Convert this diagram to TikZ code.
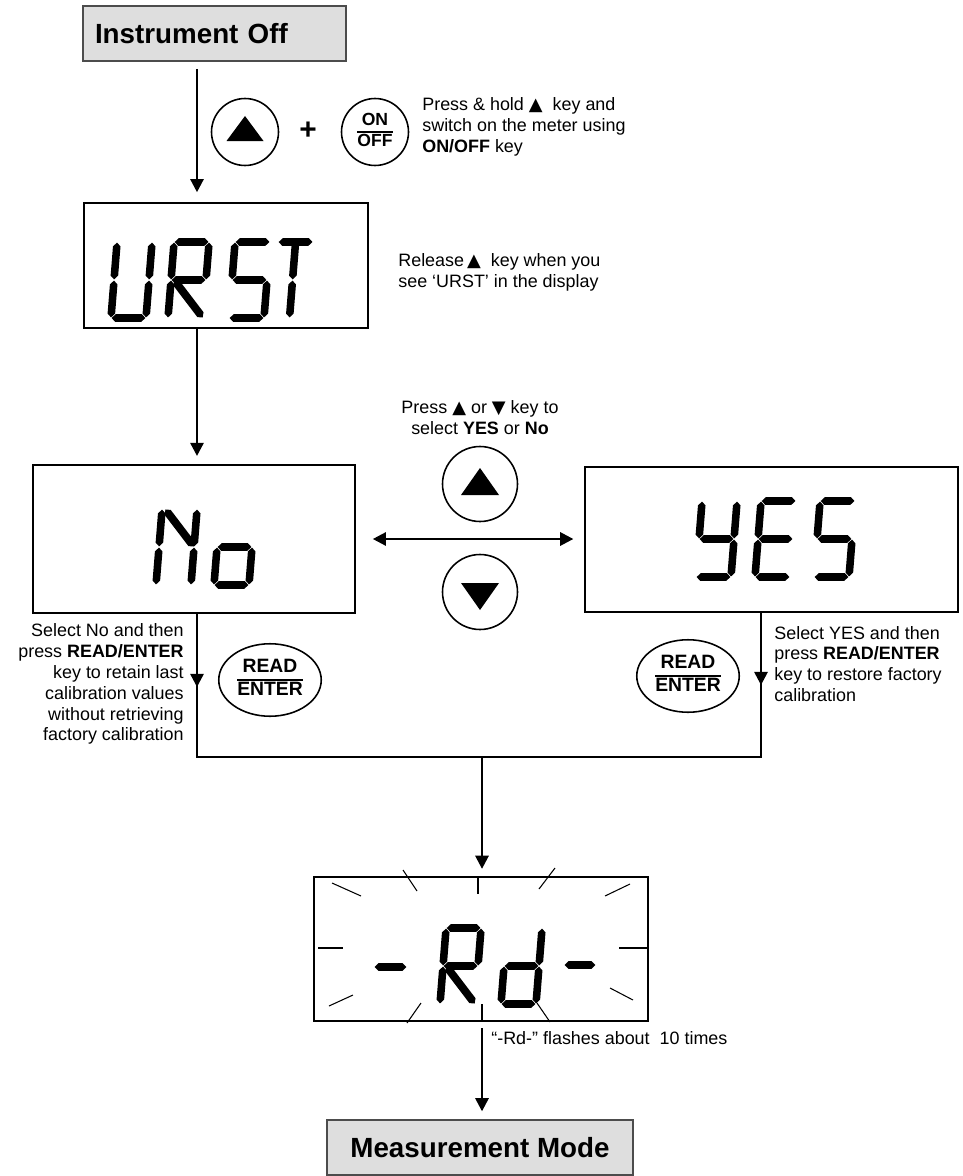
\documentclass[tikz,border=0pt]{standalone}
\usepackage{fontspec}
\setmainfont{Liberation Sans}
\newfontfamily\symfont{DejaVu Sans}
\usetikzlibrary{arrows.meta,calc,shapes.geometric,decorations.markings}

% segment display pieces
\newcommand\sgap{0.35pt}
\newcommand\stip{2.5pt}
\newcommand\shw{2.15pt}
\newcommand\dgw{35}
\newcommand\dgh{76}
\newcommand\dgm{38}
\newcommand\seg[2]{\fill ($(#1)!\sgap!(#2)$) -- ($(#1)!\stip!(#2)!\shw!90:(#2)$)
  -- ($(#2)!\stip!(#1)!\shw!-90:(#1)$) -- ($(#2)!\sgap!(#1)$)
  -- ($(#2)!\stip!(#1)!\shw!90:(#1)$) -- ($(#1)!\stip!(#2)!\shw!-90:(#2)$) -- cycle;}
\newcommand\dsega{\seg{0,-\dgh}{\dgw,-\dgh}}
\newcommand\dsegb{\seg{\dgw,-\dgh}{\dgw,-\dgm}}
\newcommand\dsegc{\seg{\dgw,-\dgm}{\dgw,0}}
\newcommand\dsegd{\seg{0,0}{\dgw,0}}
\newcommand\dsege{\seg{0,-\dgm}{0,0}}
\newcommand\dsegf{\seg{0,-\dgh}{0,-\dgm}}
\newcommand\dsegg{\seg{0,-\dgm}{\dgw,-\dgm}}
\newcommand\dsegk{\seg{3,-\dgm}{\dgw,0}}     % R leg
\newcommand\dsegn{\seg{3,-\dgh}{\dgw,-\dgm}}  % N slash
\newcommand\dsegi{\seg{\dgw/2,-\dgh}{\dgw/2,-\dgm}}
\newcommand\dsegj{\seg{\dgw/2,-\dgm}{\dgw/2,0}}
\newcommand\digit[3]{\begin{scope}[shift={(#1,#2)},xslant=0.08]
  \foreach \s in {#3} {\csname dseg\s\endcsname}
  \end{scope}}
\newcommand\keytext[2]{\setlength\arrayrulewidth{1.1pt}%
  \begin{tabular}{@{}c@{}}#1\\\hline #2\end{tabular}}

\begin{document}
\begin{tikzpicture}[x=0.02cm, y=-0.02cm,
  >={Triangle[length=7.5pt,width=7.5pt]},
  headbox/.style={draw=black!70, fill=black!13, line width=0.9pt,
    font=\bfseries\fontsize{15.8}{18}\selectfont, minimum height=1.1cm},
  dispbox/.style={draw, line width=1.3pt, inner sep=0pt},
  notetxt/.style={inner sep=0pt, font=\fontsize{10.2}{11.9}\selectfont},
  keybtn/.style={circle, draw, line width=0.9pt, inner sep=0pt},
  enterkey/.style={ellipse, draw, line width=0.9pt, inner sep=0pt,
    minimum width=2.05cm, minimum height=1.45cm,
    font=\bfseries\fontsize{11}{12}\selectfont},
  arr/.style={->, line width=1.4pt},
  wire/.style={line width=1.4pt},
  midarrow/.style={postaction={decorate}, decoration={markings,
    mark=at position #1 with {\arrow{>}}}},
  flashray/.style={line width=0.6pt}]
\useasboundingbox (0,0) rectangle (963,1176);

% boxes
\node[headbox, text width=4.78cm, inner xsep=0.24cm, align=left] (off) at (214.5,33.5) {Instrument Off};
\node[dispbox, minimum width=5.68cm, minimum height=2.5cm] (urst) at (226,265.5) {};
\node[dispbox, minimum width=6.44cm, minimum height=2.96cm] (no) at (194,539) {};
\node[dispbox, minimum width=7.46cm, minimum height=2.9cm] (yes) at (771.5,539.5) {};
\node[dispbox, minimum width=6.68cm, minimum height=2.88cm] (rd) at (481,949) {};
\node[headbox, minimum width=6.12cm] (meas) at (480,1147.5) {Measurement Mode};

% keys
\node[keybtn, minimum size=1.34cm] (k1) at (245,132) {};
\node[font=\bfseries\fontsize{17}{17}\selectfont] (plus) at (308,131) {+};
\node[keybtn, minimum size=1.34cm, font=\bfseries\fontsize{10}{11}\selectfont] (k2) at (375,132) {\keytext{ON}{OFF}};
\node[keybtn, minimum size=1.5cm] (kup) at (480,484) {};
\node[keybtn, minimum size=1.5cm] (kdn) at (480,592) {};
\node[enterkey] (ent1) at (270,680) {\keytext{READ}{ENTER}};
\node[enterkey] (ent2) at (688,676) {\keytext{READ}{ENTER}};
\fill ([shift={(-18.5,9)}]k1.center) -- ([shift={(18.5,9)}]k1.center) -- ([shift={(0,-16)}]k1.center) -- cycle;
\fill ([shift={(-19,11)}]kup.center) -- ([shift={(19,11)}]kup.center) -- ([shift={(0,-16)}]kup.center) -- cycle;
\fill ([shift={(-19,-9)}]kdn.center) -- ([shift={(19,-9)}]kdn.center) -- ([shift={(0,18)}]kdn.center) -- cycle;

% texts
\node[notetxt, anchor=west, align=left] (holdtxt) at (422,127) {Press \& hold {\symfont ▲}\ \ key and\\switch on the meter using\\\textbf{ON/OFF} key};
\node[notetxt, anchor=west, align=left] (reltxt) at (398,272) {Release\,{\symfont ▲}\ \ key when you\\see ‘URST’ in the display};
\node[notetxt, align=center] (seltxt) at (480,418) {Press {\symfont ▲} or {\symfont ▼} key to\\select \textbf{YES} or \textbf{No}};
\node[notetxt, anchor=east, align=right] (notxt) at (184,684) {Select No and then\\press \textbf{READ/ENTER}\\key to retain last\\calibration values\\without retrieving\\factory calibration};
\node[notetxt, anchor=west, align=left] (yestxt) at (774,664) {Select YES and then\\press \textbf{READ/ENTER}\\key to restore factory\\calibration};
\node[notetxt, anchor=west] (flashtxt) at (491,1038) {“-Rd-” flashes about\ \ 10 times};

% connectors
\coordinate (tk) at (197,0);
\coordinate (jl) at (197,757);
\coordinate (jr) at (761,757);
\coordinate (jm) at (482,757);
\draw[arr, shorten <=4pt, shorten >=5.5pt] (off.south -| tk) -- (urst.north -| tk);
\draw[arr, shorten >=4.5pt] (urst.south -| tk) -- (no.north -| tk);
\draw[arr, <->, shorten <=9.5pt, shorten >=6pt] (no.east) -- (no.east -| yes.west);
\draw[wire] (no.south -| tk) -- (jl) -- (jr) -- (yes.south -| jr);
\draw[wire, midarrow=0.51] (no.south -| tk) -- (jl);
\draw[wire, midarrow=0.5] (yes.south -| jr) -- (jr);
\draw[arr, shorten >=4pt] (jm) -- (rd.north -| jm);
\draw[arr, shorten <=3.4pt, shorten >=4.5pt] (rd.south -| jm) -- (meas.north -| jm);

% display characters
\digit{111}{318}{f,e,d,c,b}
\digit{168}{318}{a,b,f,g,e,k}
\digit{229}{318}{a,f,g,c,d}
\digit{272}{318}{a,i,j}
\digit{156}{585}{f,e,b,c,n}
\digit{214}{585}{g,c,d,e}
\digit{696}{577}{f,b,g,c,d}
\digit{755}{577}{a,f,g,e,d}
\digit{814}{577}{a,f,g,c,d}
\digit{440}{1004}{a,b,f,g,e,k}
\digit{501}{1004}{b,c,d,e,g}
\seg{374,967}{407,967}
\seg{564,965}{596,965}

% flashing rays
\foreach \xa/\ya/\xb/\yb in {332/883/361/896, 403/870/417/891, 478/877/478/894,
    555/868/539/889, 630/884/605/896, 318/948/343/948, 619/948/647/948,
    329/1006/353/995, 610/988/633/1000, 421/1003/407/1023, 482/1004/482/1021,
    537/1003/550/1022}
  \draw[flashray] (\xa,\ya) -- (\xb,\yb);
\end{tikzpicture}
\end{document}
